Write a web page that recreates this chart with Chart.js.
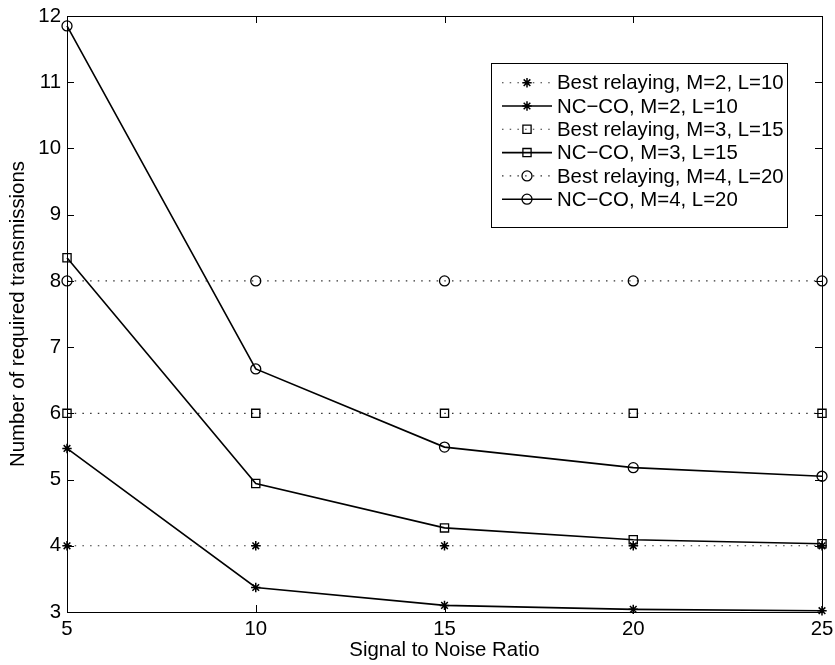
<!DOCTYPE html>
<html>
<head>
<meta charset="utf-8">
<script src="https://cdn.jsdelivr.net/npm/chart.js@4/dist/chart.umd.min.js"></script>
<style>
  html, body { margin: 0; padding: 0; background: #fff; }
  #wrap { width: 835px; height: 665px; }
</style>
</head>
<body>
<div id="wrap"><canvas id="c"></canvas></div>
<script>
// values
const snr = [5, 10, 15, 20, 25];
const bestM2 = [4, 4, 4, 4, 4];
const ncM2 = [5.47, 3.37, 3.10, 3.04, 3.02];
const bestM3 = [6, 6, 6, 6, 6];
const ncM3 = [8.35, 4.94, 4.27, 4.09, 4.03];
const bestM4 = [8, 8, 8, 8, 8];
const ncM4 = [11.85, 6.67, 5.49, 5.18, 5.05];

const xTicks = [5, 10, 15, 20, 25];
const yTicks = [3, 4, 5, 6, 7, 8, 9, 10, 11, 12];

const labels = [
  'Best relaying, M=2, L=10', 'NC\u2212CO, M=2, L=10',
  'Best relaying, M=3, L=15', 'NC\u2212CO, M=3, L=15',
  'Best relaying, M=4, L=20', 'NC\u2212CO, M=4, L=20',
];

const FONT = "'Liberation Sans', Arial, Helvetica, sans-serif";
const FS = 20.4;
Chart.defaults.color = '#000';
Chart.defaults.font.family = FONT;

const pts = vals => snr.map((x, i) => ({ x, y: vals[i] }));

// marker size per style
const RAD = { star: 4.7, rect: 5.8, circle: 5 };

function series(label, vals, style, dotted) {
  return {
    label, data: pts(vals),
    borderColor: dotted ? '#333' : '#000',
    borderWidth: dotted ? 1.1 : 1.6,
    borderDash: dotted ? [1.5, 6.2] : [],
    pointStyle: style, pointRadius: RAD[style], pointHoverRadius: RAD[style],
    pointBorderColor: '#000', pointBackgroundColor: 'rgba(0,0,0,0)',
    pointBorderWidth: style === 'star' ? 1.5 : 1.3,
    tension: 0, fill: false, clip: false,
  };
}

const datasets = [
  series(labels[0], bestM2, 'star', true),
  series(labels[1], ncM2, 'star', false),
  series(labels[2], bestM3, 'rect', true),
  series(labels[3], ncM3, 'rect', false),
  series(labels[4], bestM4, 'circle', true),
  series(labels[5], ncM4, 'circle', false),
];

function marker(ctx, style, x, y, r) {
  ctx.beginPath();
  if (style === 'circle') {
    ctx.arc(x, y, r, 0, Math.PI * 2);
  } else if (style === 'rect') {
    const s = Math.SQRT1_2 * r;
    ctx.rect(x - s, y - s, 2 * s, 2 * s);
  } else {
    const d = Math.SQRT1_2 * r;
    ctx.moveTo(x - r, y); ctx.lineTo(x + r, y);
    ctx.moveTo(x, y - r); ctx.lineTo(x, y + r);
    ctx.moveTo(x - d, y - d); ctx.lineTo(x + d, y + d);
    ctx.moveTo(x - d, y + d); ctx.lineTo(x + d, y - d);
  }
  ctx.stroke();
}

// MATLAB style box with inward ticks on all four sides
const boxTicks = {
  id: 'boxTicks',
  afterDatasetsDraw(chart) {
    const { ctx, chartArea: a, scales: { x, y } } = chart;
    const TL = 7;
    ctx.save();
    ctx.strokeStyle = '#000'; ctx.lineWidth = 1; ctx.setLineDash([]);
    ctx.strokeRect(a.left + 0.5, a.top + 0.5, a.right - a.left, a.bottom - a.top);
    ctx.beginPath();
    xTicks.forEach(v => {
      const px = Math.round(x.getPixelForValue(v)) + 0.5;
      ctx.moveTo(px, a.bottom); ctx.lineTo(px, a.bottom - TL);
      ctx.moveTo(px, a.top); ctx.lineTo(px, a.top + TL);
    });
    yTicks.forEach(v => {
      const py = Math.round(y.getPixelForValue(v)) + 0.5;
      ctx.moveTo(a.left, py); ctx.lineTo(a.left + TL, py);
      ctx.moveTo(a.right, py); ctx.lineTo(a.right - TL, py);
    });
    ctx.stroke();
    ctx.restore();
  },
};

// legend box drawn inside the plot, top right
const insideLegend = {
  id: 'insideLegend',
  afterDraw(chart) {
    const { ctx, chartArea: a } = chart;
    const w = 296, h = 164;
    const left = a.right - 35 - w, top = a.top + 47;
    const rowH = 23.3;
    ctx.save();
    ctx.fillStyle = '#fff';
    ctx.fillRect(left, top, w, h);
    ctx.strokeStyle = '#000'; ctx.lineWidth = 1;
    ctx.strokeRect(Math.round(left) + 0.5, Math.round(top) + 0.5, w, h);
    chart.data.datasets.forEach((ds, i) => {
      const cy = top + 19.7 + i * rowH;
      ctx.strokeStyle = ds.borderColor;
      ctx.lineWidth = ds.borderWidth;
      ctx.setLineDash(ds.borderDash);
      ctx.beginPath();
      ctx.moveTo(left + 11, cy); ctx.lineTo(left + 61, cy);
      ctx.stroke();
      ctx.setLineDash([]);
      ctx.strokeStyle = '#000';
      ctx.lineWidth = ds.pointBorderWidth;
      marker(ctx, ds.pointStyle, left + 36, cy, ds.pointRadius);
      ctx.fillStyle = '#000';
      ctx.font = FS + 'px ' + FONT;
      ctx.textBaseline = 'middle';
      ctx.fillText(ds.label, left + 66, cy + 1);
    });
    ctx.restore();
  },
};

new Chart(document.getElementById('c'), {
  type: 'line',
  data: { datasets },
  options: {
    responsive: true, maintainAspectRatio: false, animation: false,
    layout: { padding: { top: 16, right: 13, left: 0, bottom: 0 } },
    plugins: { legend: { display: false }, tooltip: { enabled: false } },
    scales: {
      x: {
        type: 'linear', min: 5, max: 25,
        afterBuildTicks: s => { s.ticks = xTicks.map(v => ({ value: v })); },
        afterFit: s => { s.height = 53; s.paddingLeft = 0; s.paddingRight = 0; },
        grid: { display: false, drawTicks: false },
        border: { display: false },
        ticks: { font: { size: FS }, padding: 5, color: '#000', maxRotation: 0 },
        title: { display: true, text: 'Signal to Noise Ratio', font: { size: FS }, padding: { top: 0, bottom: 2 } },
      },
      y: {
        type: 'linear', min: 3, max: 12,
        afterBuildTicks: s => { s.ticks = yTicks.map(v => ({ value: v })); },
        afterFit: s => { s.width = 67; s.paddingTop = 0; s.paddingBottom = 0; },
        grid: { display: false, drawTicks: false },
        border: { display: false },
        ticks: { font: { size: FS }, padding: 6, color: '#000' },
        title: { display: true, text: 'Number of required transmissions', font: { size: FS }, padding: { top: 6, bottom: 0 } },
      },
    },
  },
  plugins: [boxTicks, insideLegend],
});
</script>
</body>
</html>
